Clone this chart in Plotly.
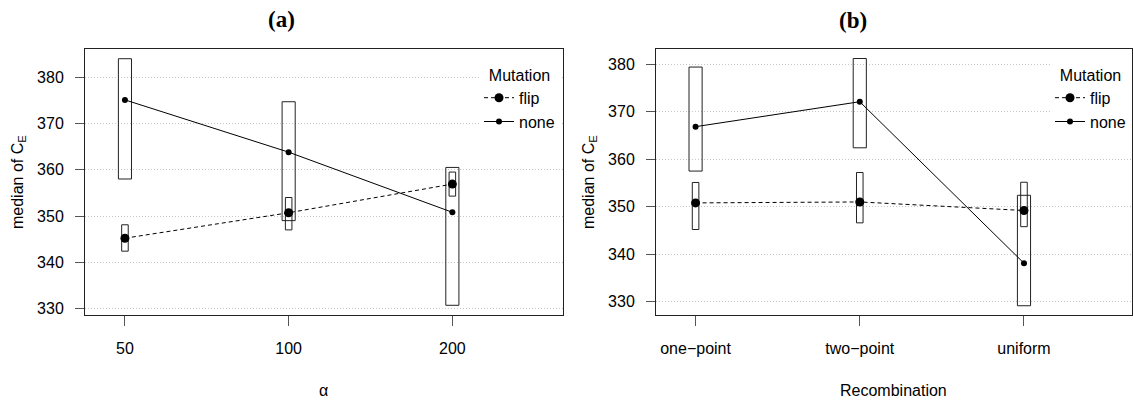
import plotly.graph_objects as go

# ---------------- data ----------------
alpha_levels = ["50", "100", "200"]
a_flip_median = [345.2, 350.7, 356.9]
a_flip_low = [342.4, 347.0, 354.3]
a_flip_high = [348.1, 354.0, 359.5]
a_none_median = [375.1, 363.8, 350.8]
a_none_low = [358.0, 349.0, 330.7]
a_none_high = [384.0, 374.7, 360.5]

rec_levels = ["one\u2212point", "two\u2212point", "uniform"]
b_flip_median = [350.8, 351.0, 349.2]
b_flip_low = [345.2, 346.6, 345.8]
b_flip_high = [355.1, 357.2, 355.15]
b_none_median = [366.85, 372.1, 338.1]
b_none_low = [357.5, 362.4, 329.15]
b_none_high = [379.4, 381.2, 352.4]

y_ticks = [330, 340, 350, 360, 370, 380]

W, H = 1133, 400
FONT = "Liberation Sans, Arial, Helvetica, sans-serif"
BOX_COLOR = "#222222"

fig = go.Figure()


def add_panel(cats, flip_med, flip_lo, flip_hi, none_med, none_lo, none_hi, xa, ya, leg):
    # interval boxes
    fig.add_trace(go.Bar(
        x=cats, y=[h - l for h, l in zip(none_hi, none_lo)], base=none_lo,
        width=0.08, marker=dict(color="rgba(0,0,0,0)", line=dict(color=BOX_COLOR, width=1)),
        showlegend=False, hoverinfo="skip", xaxis=xa, yaxis=ya))
    fig.add_trace(go.Bar(
        x=cats, y=[h - l for h, l in zip(flip_hi, flip_lo)], base=flip_lo,
        width=0.04, marker=dict(color="rgba(0,0,0,0)", line=dict(color=BOX_COLOR, width=1)),
        showlegend=False, hoverinfo="skip", xaxis=xa, yaxis=ya))
    # medians
    fig.add_trace(go.Scatter(
        x=cats, y=flip_med, mode="lines+markers", name="flip",
        line=dict(color="black", width=1, dash="4px,3px"),
        marker=dict(color="black", size=9), xaxis=xa, yaxis=ya, legend=leg))
    fig.add_trace(go.Scatter(
        x=cats, y=none_med, mode="lines+markers", name="none",
        line=dict(color="black", width=1),
        marker=dict(color="black", size=6), xaxis=xa, yaxis=ya, legend=leg))


add_panel(alpha_levels, a_flip_median, a_flip_low, a_flip_high,
          a_none_median, a_none_low, a_none_high, "x", "y", "legend")
add_panel(rec_levels, b_flip_median, b_flip_low, b_flip_high,
          b_none_median, b_none_low, b_none_high, "x2", "y2", "legend2")

ydom = [1 - 315 / H, 1 - 49 / H]
xdom_a = [85 / W, 562.7 / W]
xdom_b = [656 / W, 1131.7 / W]

xcommon = dict(type="category", showline=True, mirror=True, linecolor=BOX_COLOR, linewidth=1,
               ticks="outside", ticklen=10, tickcolor="#555555", tickwidth=1,
               tickfont=dict(family=FONT, size=16, color="black"),
               ticklabelstandoff=9, showgrid=False, zeroline=False, automargin=False,
               fixedrange=True)
ycommon = dict(showline=True, mirror=True, linecolor=BOX_COLOR, linewidth=1,
               ticks="outside", ticklen=9, tickcolor="#555555", tickwidth=1,
               tickvals=y_ticks, tickfont=dict(family=FONT, size=16, color="black"),
               ticklabelstandoff=8, showgrid=True, gridcolor="#c8c8c8", gridwidth=1,
               griddash="1px,2px", zeroline=False, automargin=False, fixedrange=True)

legcommon = dict(bgcolor="white", borderwidth=0, yanchor="top", xanchor="right",
                 font=dict(family=FONT, size=16, color="black"),
                 title=dict(text="Mutation", side="top center",
                            font=dict(family=FONT, size=16, color="black")),
                 tracegroupgap=0, itemwidth=30)

fig.update_layout(
    width=W, height=H, margin=dict(l=0, r=0, t=0, b=0),
    paper_bgcolor="white", plot_bgcolor="white",
    barmode="overlay", showlegend=True,
    xaxis=dict(domain=xdom_a, range=[-0.244, 2.674], anchor="y", **xcommon),
    yaxis=dict(domain=ydom, range=[328.6, 386.1], anchor="x", **ycommon),
    xaxis2=dict(domain=xdom_b, range=[-0.241, 2.656], anchor="y2", **xcommon),
    yaxis2=dict(domain=ydom, range=[327.2, 383.2], anchor="x2", **ycommon),
    legend=dict(x=560 / W, y=1 - 60 / H, **legcommon),
    legend2=dict(x=1131 / W, y=1 - 60 / H, **legcommon),
)

annos = [
    dict(text="<b>(a)</b>", x=281.7 / W, y=1 - 19.5 / H,
         font=dict(family="Liberation Serif, Times New Roman, serif", size=23, color="black")),
    dict(text="<b>(b)</b>", x=852.7 / W, y=1 - 20 / H,
         font=dict(family="Liberation Serif, Times New Roman, serif", size=23, color="black")),
    dict(text="median of C<sub>E</sub>", x=18 / W, y=1 - 182 / H, textangle=-90,
         font=dict(family=FONT, size=16, color="black")),
    dict(text="median of C<sub>E</sub>", x=589 / W, y=1 - 182 / H, textangle=-90,
         font=dict(family=FONT, size=16, color="black")),
    dict(text="\u03b1", x=323.8 / W, y=1 - 390 / H,
         font=dict(family=FONT, size=16, color="black")),
    dict(text="Recombination", x=893.9 / W, y=1 - 390 / H,
         font=dict(family=FONT, size=16, color="black")),
]
for a in annos:
    fig.add_annotation(xref="paper", yref="paper", showarrow=False,
                       xanchor="center", yanchor="middle", **a)

fig.write_html("out.html",
               config={"displayModeBar": False, "staticPlot": True},
               post_script="document.body.style.margin='0';document.body.style.padding='0';"
                           "document.body.style.overflow='hidden';")
